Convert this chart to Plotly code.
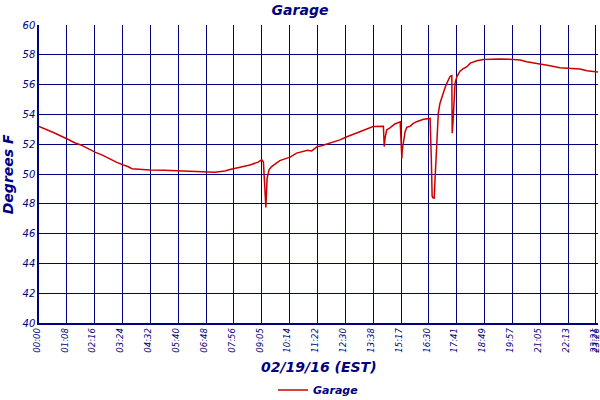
import plotly.graph_objects as go

# sample index (1 unit = 1 sample, ticks every 68 samples) and temperature (deg F)
sample = [
    0, 14, 38, 69, 87, 102, 119, 138, 156, 173, 190, 206, 217, 227, 246, 271,
    307, 344, 393, 429, 454, 466, 491, 515, 535, 544, 548, 552, 554, 556, 557,
    562, 568, 588, 613, 629, 656, 666, 679, 690, 710, 735, 749, 772, 792, 816,
    841, 843, 845, 849, 857, 869, 882, 886, 887, 890, 894, 898, 906, 914, 922,
    939, 955, 958, 960, 962, 965, 967, 970, 973, 975, 979, 984, 988, 992, 996,
    1000, 1004, 1008, 1009, 1011, 1014, 1016, 1020, 1028, 1036, 1045, 1053,
    1061, 1069, 1085, 1102, 1126, 1158, 1175, 1191, 1224, 1248, 1272, 1297,
    1321, 1338, 1362, 1365,
]
temp_f = [
    53.2, 53.05, 52.75, 52.35, 52.1, 51.95, 51.7, 51.45, 51.25, 51.0, 50.78,
    50.6, 50.5, 50.35, 50.3, 50.27, 50.25, 50.22, 50.15, 50.12, 50.2, 50.3,
    50.45, 50.6, 50.8, 50.95, 50.8, 48.9, 47.75, 49.1, 49.7, 50.3, 50.5, 50.9,
    51.13, 51.4, 51.6, 51.55, 51.84, 51.9, 52.07, 52.29, 52.47, 52.73, 52.96,
    53.18, 53.2, 51.84, 52.4, 52.96, 53.1, 53.36, 53.5, 51.05, 51.6, 52.3,
    52.84, 53.13, 53.2, 53.4, 53.51, 53.67, 53.73, 51.0, 48.5, 48.4, 48.38,
    49.6, 51.49, 52.84, 54.07, 54.73, 55.18, 55.62, 55.84, 56.1, 56.38, 56.56,
    56.6, 52.73, 53.5, 55.18, 56.1, 56.5, 56.9, 57.07, 57.2, 57.44, 57.53,
    57.6, 57.69, 57.71, 57.71, 57.69, 57.65, 57.53, 57.4, 57.27, 57.13, 57.07,
    57.04, 56.93, 56.89, 56.84,
]

tick_pos = [68 * i for i in range(21)] + [1365]
tick_text = [
    "00:00", "01:08", "02:16", "03:24", "04:32", "05:40", "06:48", "07:56",
    "09:05", "10:14", "11:22", "12:30", "13:38", "15:17", "16:30", "17:41",
    "18:49", "19:57", "21:05", "22:13", "23:21", "23:26",
]

NAVY = "#000080"
FONT = "DejaVu Sans"

fig = go.Figure()
fig.add_trace(go.Scatter(
    x=sample, y=temp_f, mode="lines", name="Garage",
    line=dict(color="#CC0000", width=1.5),
))

fig.update_layout(
    width=600, height=400,
    margin=dict(l=39, r=2, t=25, b=77, autoexpand=False),
    paper_bgcolor="white", plot_bgcolor="white",
    title=dict(text="Garage", x=0.5, xanchor="center", y=0.975, yanchor="middle",
               font=dict(family=FONT, size=14, color=NAVY, style="italic", weight="bold")),
    showlegend=True,
    legend=dict(orientation="h", x=0.5, xanchor="center", y=0.025, yanchor="middle",
                yref="container",
                font=dict(family=FONT, size=11, color=NAVY, style="italic", weight="bold")),
    annotations=[
        dict(text="02/19/16 (EST)", x=0.5, y=-0.148, xref="paper", yref="paper",
             showarrow=False, xanchor="center", yanchor="middle",
             font=dict(family=FONT, size=14, color=NAVY, style="italic", weight="bold")),
        dict(text="Degrees F", x=-0.055, y=0.5, xref="paper", yref="paper",
             showarrow=False, textangle=-90, xanchor="center", yanchor="middle",
             font=dict(family=FONT, size=14, color=NAVY, style="italic", weight="bold")),
    ],
)

fig.update_xaxes(
    range=[0, 1365], tickmode="array", tickvals=tick_pos, ticktext=tick_text,
    tickangle=-90, ticks="", showgrid=True, gridcolor=NAVY, gridwidth=1,
    showline=True, linecolor=NAVY, linewidth=1.5, zeroline=False, automargin=False,
    ticklabeloverflow="allow", ticklabelshift=-2,
    tickfont=dict(family=FONT, size=8.5, color=NAVY, style="italic"),
)
fig.update_yaxes(
    range=[40, 60], dtick=2, ticks="", showgrid=True, gridcolor=NAVY, gridwidth=1,
    showline=True, linecolor=NAVY, linewidth=1.5, zeroline=False, automargin=False,
    tickfont=dict(family=FONT, size=10, color=NAVY, style="italic"),
)

# page body has a default 8px margin; drop it so the 600x400 figure fills the window
fig.write_html("out.html", config={"displayModeBar": False},
               post_script="document.body.style.margin = '0';")
